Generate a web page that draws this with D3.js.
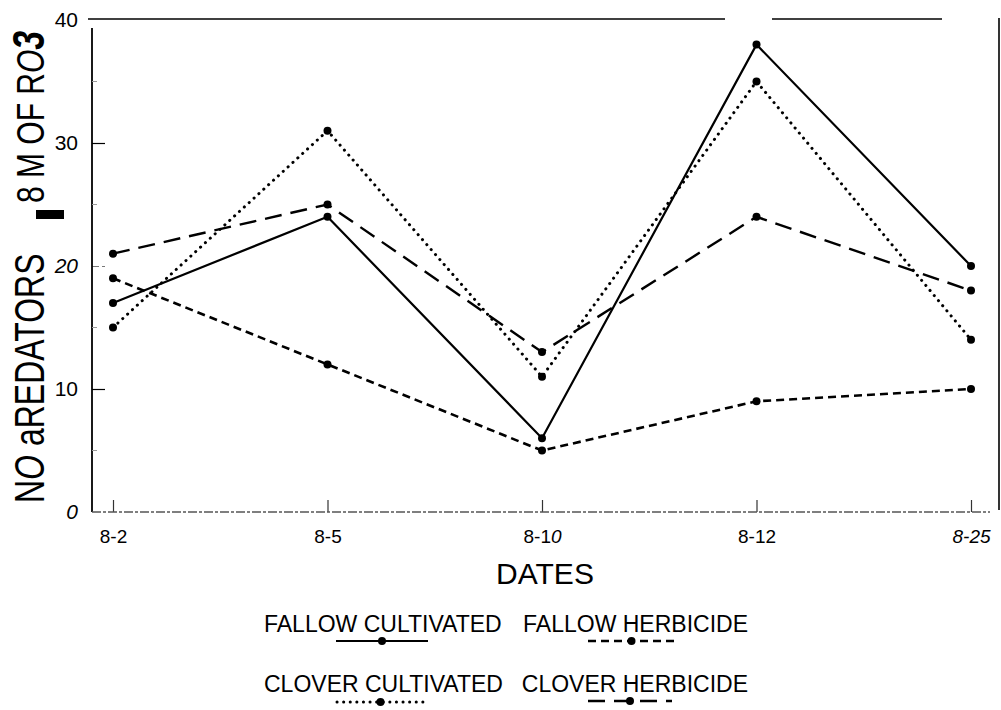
<!DOCTYPE html>
<html>
<head>
<meta charset="utf-8">
<script src="https://cdn.jsdelivr.net/npm/d3@7"></script>
<style>
  html, body { margin: 0; padding: 0; background: #fff; }
  svg { display: block; font-family: "Liberation Sans", Arial, sans-serif; }
</style>
</head>
<body>
<svg id="chart" width="1001" height="710"></svg>
<script>
const categories = ["8-2", "8-5", "8-10", "8-12", "8-25"];
const fallowCultivated = [17, 24, 6, 38, 20];
const cloverCultivated = [15, 31, 11, 35, 14];
const fallowHerbicide = [19, 12, 5, 9, 10];
const cloverHerbicide = [21, 25, 13, 24, 18];
const yTicks = [0, 10, 20, 30, 40];
const yMinorTicks = [5, 15, 25, 35];
const seriesNames = ["FALLOW CULTIVATED", "FALLOW HERBICIDE", "CLOVER CULTIVATED", "CLOVER HERBICIDE"];

const svg = d3.select("#chart");
const x = d3.scalePoint().domain(categories).range([113, 971]);
const y = d3.scaleLinear().domain([0, 40]).range([512, 20]);

const styles = {
  "FALLOW CULTIVATED": { dash: null, width: 2.2, cap: "butt" },
  "CLOVER CULTIVATED": { dash: "0.1 6.5", width: 3, cap: "round" },
  "FALLOW HERBICIDE": { dash: "8 5", width: 2.6, cap: "butt" },
  "CLOVER HERBICIDE": { dash: "17 9", width: 2.4, cap: "butt" }
};
const series = [
  { name: "FALLOW CULTIVATED", values: fallowCultivated },
  { name: "CLOVER CULTIVATED", values: cloverCultivated },
  { name: "FALLOW HERBICIDE", values: fallowHerbicide },
  { name: "CLOVER HERBICIDE", values: cloverHerbicide }
];

// frame lines (top border broken, right border)
svg.append("line").attr("x1", 88).attr("x2", 725).attr("y1", 19).attr("y2", 19).attr("stroke", "#000").attr("stroke-width", 1.6);
svg.append("line").attr("x1", 772).attr("x2", 942).attr("y1", 19).attr("y2", 19).attr("stroke", "#000").attr("stroke-width", 1.6);
svg.append("line").attr("x1", 999).attr("x2", 999).attr("y1", 18).attr("y2", 510).attr("stroke", "#000").attr("stroke-width", 1.6);

// left axis
const yAxis = d3.axisLeft(y).tickValues(yTicks).tickSize(-13).tickPadding(14).tickFormat(d => d);
const gy = svg.append("g").attr("transform", "translate(92,0)").call(yAxis);
gy.attr("font-size", null).attr("font-family", null);
gy.select(".domain").remove();
gy.selectAll(".tick line").attr("stroke-width", 1.2)
  .attr("display", d => (d === 0 || d === 40) ? "none" : null)
  .attr("stroke-dasharray", d => d === 20 ? "7 3" : null)
  .attr("stroke", d => d === 20 ? "#777" : "#000");
gy.selectAll(".tick text").style("font-size", "21px").attr("fill", "#000")
  .style("font-style", d => (d === 0 || d === 20) ? "italic" : "normal");
svg.append("line").attr("x1", 92).attr("x2", 92).attr("y1", 28).attr("y2", 512).attr("stroke", "#000").attr("stroke-width", 1.8);
// minor ticks
svg.append("g").selectAll("line").data(yMinorTicks).join("line")
  .attr("x1", 92).attr("x2", 97).attr("y1", d => y(d)).attr("y2", d => y(d))
  .attr("stroke", "#999").attr("stroke-width", 1);

// bottom axis
const xAxis = d3.axisBottom(x).tickSize(-12).tickPadding(18);
const gx = svg.append("g").attr("transform", "translate(0,512)").call(xAxis);
gx.attr("font-size", null).attr("font-family", null);
gx.select(".domain").remove();
gx.selectAll(".tick line").attr("stroke", "#333").attr("stroke-width", 1.2);
gx.selectAll(".tick text").style("font-size", "19px").attr("fill", "#000")
  .each(function(d) {
    const t = d3.select(this);
    if (d === "8-10") {
      t.text(null);
      t.append("tspan").text("8-1");
      t.append("tspan").style("font-style", "italic").text("0");
    } else if (d === "8-25") {
      t.style("font-style", "italic");
    }
  });
svg.append("line").attr("x1", 92).attr("x2", 990).attr("y1", 512).attr("y2", 512)
  .attr("stroke", "#555").attr("stroke-width", 1.3).attr("stroke-dasharray", "9 2 3 2");

// series lines
const line = d3.line().x((d, i) => x(categories[i])).y(d => y(d));
series.forEach(s => {
  const st = styles[s.name];
  svg.append("path").datum(s.values).attr("d", line)
    .attr("fill", "none").attr("stroke", "#000")
    .attr("stroke-width", st.width)
    .attr("stroke-linecap", st.cap)
    .attr("stroke-dasharray", st.dash);
  svg.append("g").selectAll("circle").data(s.values).join("circle")
    .attr("cx", (d, i) => x(categories[i])).attr("cy", d => y(d)).attr("r", 4).attr("fill", "#000");
});

// axis titles
svg.append("text").attr("x", 545).attr("y", 584).attr("text-anchor", "middle")
  .attr("font-size", 30).text("DATES");

const yl = svg.append("g").attr("transform", "translate(44,503) rotate(-90) scale(1,1.3)");
const t1 = yl.append("text").attr("x", 0).attr("y", 0).attr("font-size", 32);
t1.append("tspan").text("N");
t1.append("tspan").attr("font-style", "italic").text("O");
t1.append("tspan").text(" aREDATORS");
const t2 = yl.append("text").attr("x", 300).attr("y", 0).attr("font-size", 30);
t2.append("tspan").text("8 M OF R");
t2.append("tspan").attr("font-style", "italic").text("O");
t2.append("tspan").attr("font-style", "italic").attr("font-weight", "bold").attr("font-size", 34).text("3");
svg.append("rect").attr("x", 36).attr("y", 210).attr("width", 28).attr("height", 9).attr("fill", "#000");

// legend
const legend = [
  { name: seriesNames[0], tx: 264, anchor: "start", ty: 632, lx1: 336, lx2: 428, ly: 641 },
  { name: seriesNames[1], tx: 748, anchor: "end", ty: 632, lx1: 588, lx2: 675, ly: 641 },
  { name: seriesNames[2], tx: 264, anchor: "start", ty: 692, lx1: 337, lx2: 424, ly: 702 },
  { name: seriesNames[3], tx: 748, anchor: "end", ty: 692, lx1: 588, lx2: 672, ly: 701 }
];
legend.forEach(l => {
  const st = styles[l.name];
  svg.append("text").attr("x", l.tx).attr("y", l.ty).attr("text-anchor", l.anchor)
    .attr("font-size", 23).text(l.name);
  svg.append("line").attr("x1", l.lx1).attr("x2", l.lx2).attr("y1", l.ly).attr("y2", l.ly)
    .attr("stroke", "#000").attr("stroke-width", st.width)
    .attr("stroke-linecap", st.cap)
    .attr("stroke-dasharray", st.dash);
  svg.append("circle").attr("cx", (l.lx1 + l.lx2) / 2).attr("cy", l.ly).attr("r", 4).attr("fill", "#000");
});
</script>
</body>
</html>
